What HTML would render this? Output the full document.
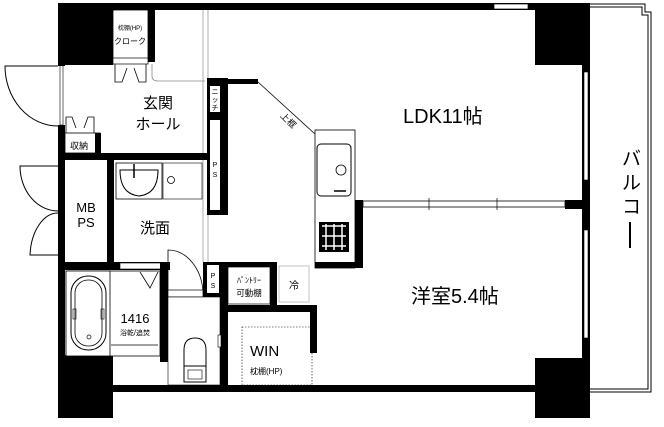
<!DOCTYPE html>
<html><head><meta charset="utf-8"><style>
html,body{margin:0;padding:0;background:#fff;}
svg{display:block;}
text{font-family:"Liberation Sans","Noto Sans CJK JP",sans-serif;fill:#000;}
</style></head><body>
<svg width="664" height="427" viewBox="0 0 664 427" xmlns="http://www.w3.org/2000/svg">
<rect width="664" height="427" fill="#fff"/>
<!-- balcony -->
<path d="M590 4 H645 V12 H651 V392 H590" fill="none" stroke="#000" stroke-width="1"/>
<path d="M590 7 H642 V15 H648 V389 H590" fill="none" stroke="#000" stroke-width="1"/>
<!-- outer walls -->
<rect x="58" y="3" width="532" height="7" fill="#000"/>
<rect x="494" y="4" width="34" height="5" fill="#fff" stroke="#000" stroke-width="0.7"/>
<rect x="58" y="3" width="55" height="62" fill="#000"/>
<rect x="148" y="10" width="7" height="52" fill="#000"/>
<rect x="535" y="3" width="55" height="62" fill="#000"/>
<rect x="582" y="65" width="8" height="320" fill="#000"/>
<rect x="584" y="72" width="4" height="108" fill="#fff" stroke="#000" stroke-width="0.6"/>
<rect x="584" y="230" width="4" height="108" fill="#fff" stroke="#000" stroke-width="0.6"/>
<rect x="535" y="358" width="55" height="60" fill="#000"/>
<rect x="58" y="385" width="477" height="7" fill="#000"/>
<rect x="58" y="355" width="55" height="63" fill="#000"/>
<rect x="58" y="125" width="7" height="240" fill="#000"/>
<rect x="60" y="65" width="3" height="60" fill="#fff" stroke="#000" stroke-width="0.6"/>
<rect x="58" y="65" width="7" height="1" fill="#000"/>
<!-- entrance doors -->
<path d="M58 66 L5 66 A53 60 0 0 0 58 126" fill="none" stroke="#000" stroke-width="1"/>
<path d="M58 166 L20 166 A38 45 0 0 0 58 211 M58 255 L30 255 A28 45 0 0 1 58 213" fill="none" stroke="#000" stroke-width="1"/>
<!-- closet -->
<rect x="113" y="10" width="35" height="52" fill="#fff" stroke="#000" stroke-width="0.8"/>
<text x="130" y="30" font-size="6" text-anchor="middle">枕棚(HP)</text>
<text x="130" y="44" font-size="8" text-anchor="middle">クローク</text>
<rect x="113" y="58" width="35" height="6" fill="#fff" stroke="#000" stroke-width="0.7"/>
<path d="M115 64 V82 H122 L127 68 M146 64 V82 H139 L134 68" fill="none" stroke="#000" stroke-width="0.8"/>
<path d="M152 64 V76 Q152 81 158 81 H205" fill="none" stroke="#888" stroke-width="0.8"/>
<!-- divider line to LDK -->
<path d="M203 10 V262 M208 10 V262" fill="none" stroke="#999" stroke-width="0.8"/>
<!-- 収納 -->
<rect x="65" y="133" width="35" height="20" fill="#fff" stroke="#000" stroke-width="0.8"/>
<rect x="95" y="133" width="6" height="20" fill="#000"/>
<text x="79" y="149" font-size="9" text-anchor="middle">収納</text>
<path d="M66 133 V117 H72 L76 128 M94 133 V117 H88 L84 128" fill="none" stroke="#000" stroke-width="0.8"/>
<rect x="58" y="153" width="150" height="7" fill="#000"/>
<!-- 玄関 -->
<text x="158" y="108" font-size="15" text-anchor="middle">玄関</text>
<text x="158" y="129" font-size="15" text-anchor="middle">ホール</text>
<!-- pillar with niche / PS -->
<rect x="207" y="78" width="21" height="137" fill="#000"/>
<rect x="228" y="79" width="30" height="5" fill="#000"/>
<rect x="210" y="86" width="10" height="26" fill="#fff"/>
<text x="215" y="94" font-size="7" text-anchor="middle">ニ</text>
<text x="215" y="102" font-size="7" text-anchor="middle">ッ</text>
<text x="215" y="110" font-size="7" text-anchor="middle">チ</text>
<rect x="210" y="120" width="10" height="90" fill="#fff"/>
<text x="215" y="167" font-size="7" text-anchor="middle">P</text>
<text x="215" y="177" font-size="7" text-anchor="middle">S</text>
<path d="M258 82 L315 134" stroke="#000" stroke-width="0.8"/>
<text x="284" y="118" font-size="9" transform="rotate(45 284 112)">上框</text>
<!-- MB PS -->
<rect x="107" y="160" width="7" height="102" fill="#000"/>
<text x="86" y="212" font-size="13" text-anchor="middle">MB</text>
<text x="86" y="227" font-size="13" text-anchor="middle">PS</text>
<!-- 洗面 -->
<rect x="116" y="163" width="46" height="36" fill="#fff" stroke="#000" stroke-width="0.8"/>
<path d="M120 170 H158 Q158 194 139 196 Q120 194 120 170 Z" fill="none" stroke="#000" stroke-width="1"/>
<line x1="134" y1="164" x2="134" y2="178" stroke="#000" stroke-width="1.5"/>
<rect x="163" y="163" width="39" height="36" fill="#fff" stroke="#000" stroke-width="0.6"/>
<circle cx="171" cy="180" r="3.5" fill="none" stroke="#000" stroke-width="0.8"/>
<text x="155" y="233" font-size="15" text-anchor="middle">洗面</text>
<!-- bath -->
<rect x="58" y="262" width="112" height="8" fill="#000"/>
<rect x="120" y="263" width="46" height="6" fill="#fff" stroke="#000" stroke-width="0.6"/>
<rect x="160" y="262" width="8" height="100" fill="#000"/>
<rect x="66" y="271" width="94" height="85" fill="#fff" stroke="#000" stroke-width="0.8"/>
<rect x="66" y="271" width="44" height="85" fill="#fff" stroke="#000" stroke-width="0.8"/>
<rect x="71" y="276" width="35" height="74" rx="17" fill="none" stroke="#000" stroke-width="1"/>
<rect x="75" y="280" width="27" height="66" rx="13" fill="none" stroke="#000" stroke-width="0.8"/>
<rect x="73" y="309" width="3" height="10" fill="none" stroke="#000" stroke-width="0.6"/>
<rect x="101" y="309" width="3" height="10" fill="none" stroke="#000" stroke-width="0.6"/>
<circle cx="89" cy="337" r="2" fill="none" stroke="#000" stroke-width="0.7"/>
<path d="M140 272 L150 288 L158 272" fill="none" stroke="#000" stroke-width="0.8"/>
<line x1="111" y1="345" x2="158" y2="345" stroke="#000" stroke-width="0.7"/>
<text x="135" y="323" font-size="13" text-anchor="middle">1416</text>
<text x="135" y="335" font-size="7" text-anchor="middle">浴乾/追焚</text>
<!-- toilet door & room -->
<path d="M168 296 V250 A35 45 0 0 1 203 292" fill="none" stroke="#000" stroke-width="0.8"/>
<rect x="168" y="290" width="35" height="7" fill="#fff" stroke="#000" stroke-width="0.7"/>
<rect x="203" y="262" width="25" height="35" fill="#000"/>
<rect x="207" y="265" width="12" height="28" fill="#fff"/>
<text x="213" y="278" font-size="7" text-anchor="middle">P</text>
<text x="213" y="288" font-size="7" text-anchor="middle">S</text>
<rect x="220" y="297" width="8" height="88" fill="#000"/>
<rect x="168" y="297" width="52" height="88" fill="#fff" stroke="#000" stroke-width="0.6"/>
<rect x="218" y="335" width="3" height="12" fill="#fff" stroke="#000" stroke-width="0.6"/>
<path d="M184 366 V350 Q184 338 195 338 Q206 338 206 350 V366 Z" fill="none" stroke="#000" stroke-width="1"/>
<rect x="184" y="366" width="22" height="16" fill="none" stroke="#000" stroke-width="1"/>
<rect x="188" y="370" width="14" height="9" fill="none" stroke="#000" stroke-width="0.6"/>
<!-- pantry / fridge -->
<rect x="228" y="262" width="45" height="5" fill="#000"/>
<rect x="228" y="267" width="42" height="37" fill="#fff" stroke="#000" stroke-width="0.7"/>
<rect x="270" y="262" width="7" height="45" fill="#000"/>
<text x="249" y="283" font-size="8" text-anchor="middle">ﾊﾟﾝﾄﾘｰ</text>
<text x="249" y="296" font-size="8.5" text-anchor="middle">可動棚</text>
<rect x="279" y="266" width="30" height="36" fill="#fff" stroke="#aaa" stroke-width="0.7"/>
<text x="294" y="289" font-size="10" text-anchor="middle">冷</text>
<rect x="222" y="305" width="90" height="7" fill="#000"/>
<rect x="310" y="305" width="7" height="48" fill="#000"/>
<!-- WIN -->
<rect x="242" y="327" width="70" height="58" fill="none" stroke="#000" stroke-width="0.6" stroke-dasharray="1.5,1.5"/>
<text x="250" y="356" font-size="15">WIN</text>
<text x="250" y="374" font-size="8">枕棚(HP)</text>
<!-- kitchen -->
<rect x="315" y="130" width="40" height="138" fill="#fff" stroke="#000" stroke-width="0.8"/>
<rect x="317" y="144" width="34" height="52" rx="4" fill="none" stroke="#000" stroke-width="1"/>
<circle cx="341" cy="170" r="5" fill="none" stroke="#000" stroke-width="0.8"/>
<line x1="334" y1="191" x2="346" y2="191" stroke="#000" stroke-width="1.5"/>
<rect x="319" y="222" width="30" height="30" fill="#000"/>
<path d="M322 226 H346 M322 236 H346 M322 246 H346 M326 224 V250 M334 224 V250 M342 224 V250" stroke="#fff" stroke-width="1.5"/>
<rect x="355" y="200" width="8" height="68" fill="#000"/>
<rect x="315" y="262" width="48" height="6" fill="#000"/>
<!-- partition LDK / 洋室 -->
<rect x="363" y="201" width="202" height="6" fill="#fff" stroke="#000" stroke-width="0.8"/>
<line x1="429" y1="198" x2="429" y2="210" stroke="#000" stroke-width="0.7"/>
<line x1="497" y1="198" x2="497" y2="210" stroke="#000" stroke-width="0.7"/>
<rect x="565" y="200" width="20" height="9" fill="#000"/>
<rect x="582" y="180" width="8" height="50" fill="#000"/>
<!-- labels -->
<text x="403" y="123" font-size="20">LDK11帖</text>
<text x="411" y="303" font-size="20">洋室5.4帖</text>
<text x="622" y="165" font-size="19">バ</text>
<text x="622" y="189" font-size="19">ル</text>
<text x="622" y="213" font-size="19">コ</text>
<rect x="629" y="222" width="2" height="26" fill="#000"/>
</svg>
</body></html>
